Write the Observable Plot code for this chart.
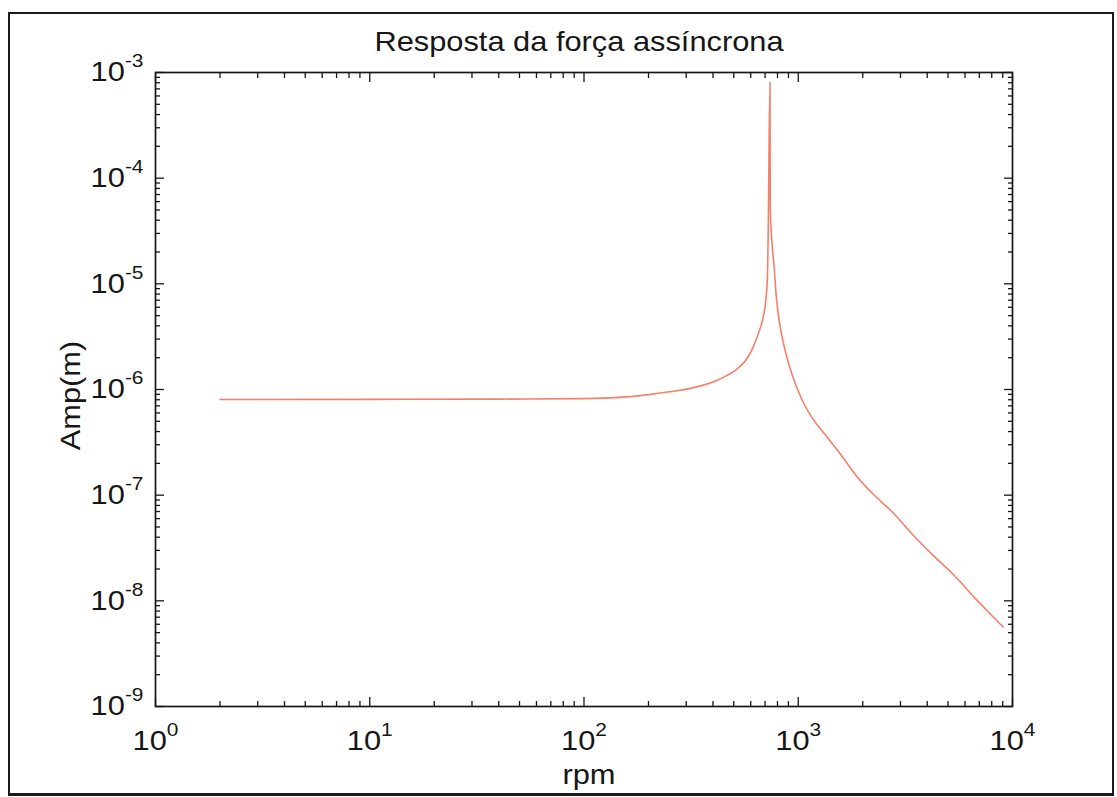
<!DOCTYPE html>
<html>
<head>
<meta charset="utf-8">
<script src="https://cdn.jsdelivr.net/npm/d3@7"></script>
<script src="https://cdn.jsdelivr.net/npm/@observablehq/plot@0.6"></script>
<style>
  html, body { margin: 0; padding: 0; background: #fff; }
  #wrap { position: relative; width: 1117px; height: 797px; overflow: hidden; }
  #wrap svg { position: absolute; left: 0; top: 0; }
  #border {
    position: absolute; left: 8px; top: 12px; width: 1106px; height: 784px;
    box-sizing: border-box; border: 2px solid #1a1a1a; border-bottom-width: 3px;
    pointer-events: none;
  }
</style>
</head>
<body>
<div id="wrap"><div id="border"></div></div>
<script>
// Frequency response of the rotor to the asynchronous force
const rpm = [2, 10, 40, 96, 174, 227, 272, 314, 361, 419, 466, 519, 568, 611, 646, 683, 709, 719, 724, 738,
             740, 773, 789, 817, 845, 890, 953, 1040, 1177, 1357, 1563, 1866, 2228, 2754, 3407, 4217, 5408,
             6683, 7985, 9040];
const amp = [8.05e-7, 8.07e-7, 8.11e-7, 8.2e-7, 8.65e-7, 9.27e-7, 9.72e-7, 1.025e-6, 1.10e-6, 1.225e-6,
             1.36e-6, 1.57e-6, 1.88e-6, 2.42e-6, 3.24e-6, 4.65e-6, 7.74e-6, 1.29e-5, 3.08e-5, 8.1e-4,
             5.1e-5, 1.38e-5, 7.73e-6, 4.31e-6, 2.99e-6, 1.93e-6, 1.245e-6, 8.04e-7, 5.18e-7, 3.59e-7,
             2.49e-7, 1.53e-7, 1.03e-7, 6.89e-8, 4.27e-8, 2.75e-8, 1.70e-8, 1.06e-8, 7.31e-9, 5.65e-9];

const title = "Resposta da força assíncrona";
const xLabel = "rpm";
const yLabel = "Amp(m)";
const xTicks = [1, 10, 100, 1000, 10000];
const yTicks = [1e-9, 1e-8, 1e-7, 1e-6, 1e-5, 1e-4, 1e-3];

// 2..9 times each decade, for the short log ticks
const minor = majors => majors.slice(0, -1).flatMap(m => d3.range(2, 10).map(k => k * m));
const data = rpm.map((r, i) => ({rpm: r, amp: amp[i]}));
// "10|e" is split into base and raised exponent after rendering
const expFormat = d => `10|${Math.round(Math.log10(d))}`;
const font = "'Liberation Sans', Arial, Helvetica, sans-serif";
const ink = "#161616";

// inward-pointing ticks on every side of the box
const inwardTicks = (axis, anchor, ticks, size) =>
  axis(ticks, {anchor, tickSize: -size, fill: "none", stroke: ink, strokeWidth: 1.3, label: null});

const chart = Plot.plot({
  width: 1117,
  height: 797,
  marginLeft: 155,
  marginRight: 105,
  marginTop: 72,
  marginBottom: 91,
  style: {fontFamily: font, background: "transparent"},
  x: {type: "log", domain: [1, 1e4], label: null},
  y: {type: "log", domain: [1e-9, 1e-3], label: null},
  marks: [
    Plot.line(data, {x: "rpm", y: "amp", stroke: "#f4806c", strokeWidth: 1.6, curve: "monotone-x"}),
    Plot.frame({stroke: ink, strokeWidth: 1.7}),
    ...["bottom", "top"].flatMap(a => [
      inwardTicks(Plot.axisX, a, xTicks, 9),
      inwardTicks(Plot.axisX, a, minor(xTicks), 5)
    ]),
    ...["left", "right"].flatMap(a => [
      inwardTicks(Plot.axisY, a, yTicks, 9),
      inwardTicks(Plot.axisY, a, minor(yTicks), 5)
    ]),
    Plot.axisX(xTicks, {anchor: "bottom", tickSize: 0, tickPadding: 24, tickFormat: expFormat,
                        fontSize: 28, fill: ink, label: null}),
    Plot.axisY(yTicks, {anchor: "left", tickSize: 0, tickPadding: 12, tickFormat: expFormat,
                        fontSize: 28, fill: ink, label: null}),
    Plot.text([title], {text: d => d, frameAnchor: "top", lineAnchor: "bottom", textAnchor: "middle",
                        dy: -22, dx: -5, fontSize: 28, fill: ink}),
    Plot.text([xLabel], {text: d => d, frameAnchor: "bottom", lineAnchor: "bottom", textAnchor: "middle",
                         dy: 77, dx: 5, fontSize: 28, fill: ink}),
    Plot.text([yLabel], {text: d => d, frameAnchor: "left", lineAnchor: "bottom", textAnchor: "middle",
                         rotate: -90, dx: -76, dy: 6, fontSize: 28, fill: ink})
  ]
});

// turn "10|-3" into 10 with a superscript exponent
d3.select(chart).selectAll("text").each(function () {
  const t = this.textContent;
  if (!t.includes("|")) return;
  const [base, exp] = t.split("|");
  const el = d3.select(this).text(null);
  el.append("tspan").text(base);
  el.append("tspan").attr("dy", -14).attr("font-size", 19).text(exp);
});

document.getElementById("wrap").prepend(chart);

// the lettering is set slightly wide
d3.select(chart).selectAll("text").each(function () {
  const w = this.getComputedTextLength();
  if (w > 0) {
    this.setAttribute("textLength", (w * 1.1).toFixed(1));
    this.setAttribute("lengthAdjust", "spacingAndGlyphs");
  }
});
</script>
</body>
</html>
